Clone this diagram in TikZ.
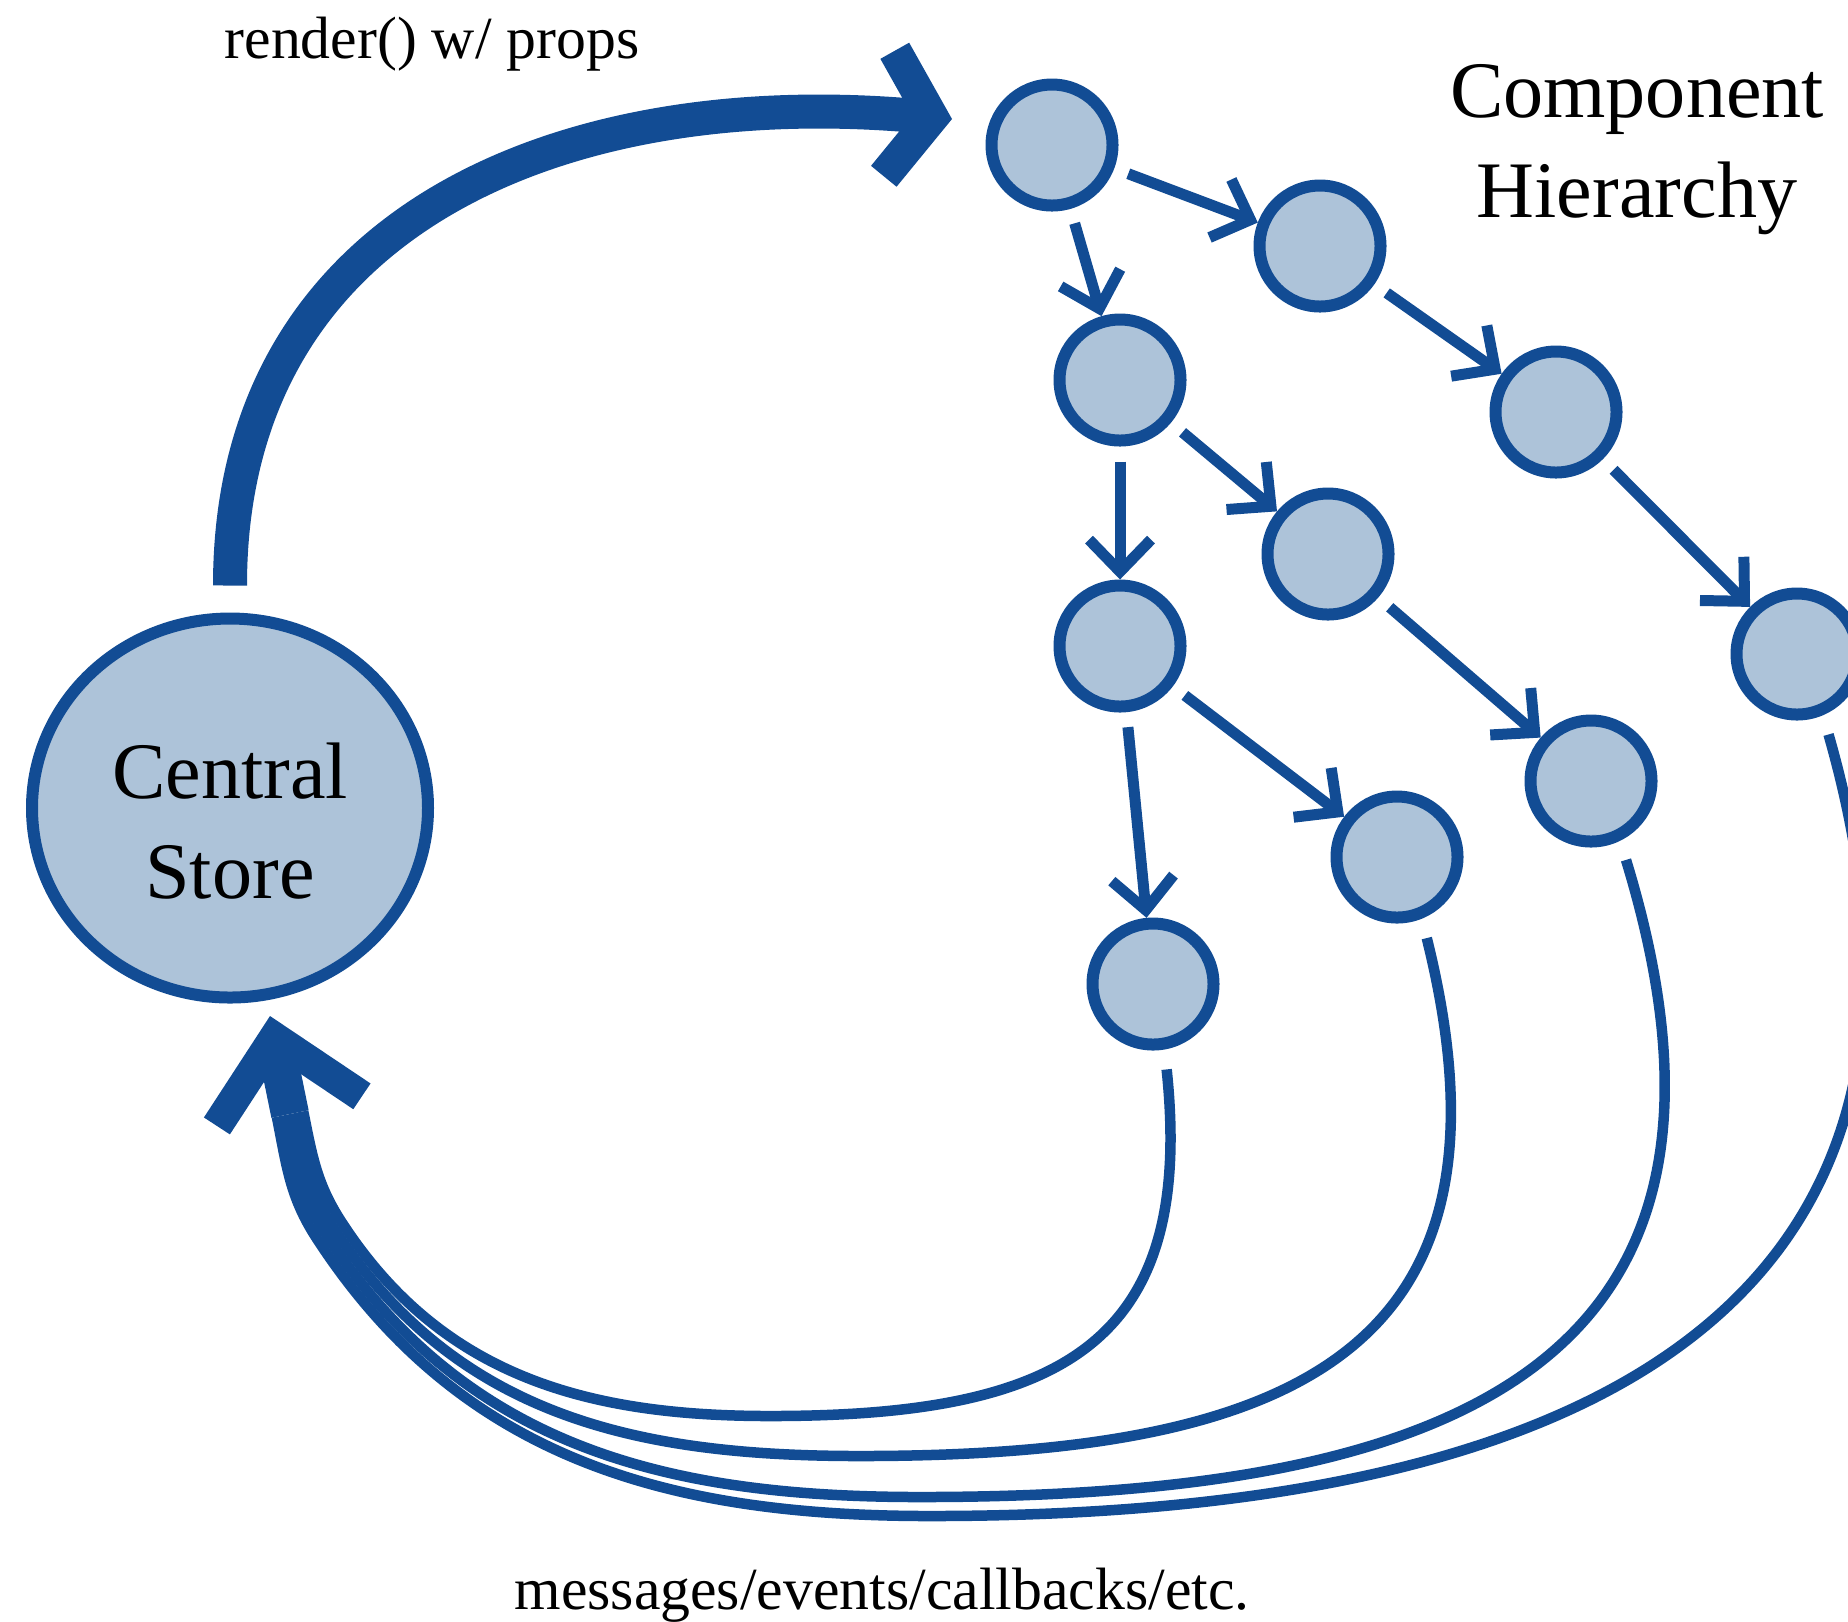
\documentclass[tikz,border=0pt]{standalone}
\usepackage{fontspec}
\setmainfont{Liberation Serif}
\usetikzlibrary{arrows.meta,shapes.geometric}
\definecolor{hierblue}{HTML}{124C94}
\definecolor{hierfill}{HTML}{ADC3D9}

\tikzset{
  store/.style={ellipse, draw=hierblue, fill=hierfill, line width=1.2mm,
    minimum width=3.96cm, minimum height=3.79cm, inner sep=0pt},
  bigtext/.style={align=center, font=\fontsize{22.8}{28.45}\selectfont},
  comp/.style={circle, draw=hierblue, fill=hierfill, line width=1.2mm,
    minimum size=1.21cm, inner sep=0pt},
  sublink/.style={hierblue, line width=1.1mm, shorten <=1.5mm,
    -{Straight Barb[sharp, length=3.2mm, width=6.2mm]}},
  callback/.style={hierblue, line width=1.05mm, shorten <=2mm},
  rendertip/.style={hierblue, line width=3.4mm,
    -{Straight Barb[sharp, line width=3.3mm, length=4.3mm, width=12.6mm]}},
  msgtip/.style={hierblue, line width=3.8mm,
    -{Straight Barb[sharp, line width=3.1mm, length=7.5mm, width=14.8mm]}},
  note/.style={font=\fontsize{17}{20}\selectfont},
}

\begin{document}
\begin{tikzpicture}
  \useasboundingbox (0,0) rectangle (18.48,-16.21);

  % the store
  \node[store] (store) at (2.30,-8.08) {};
  \node[bigtext] (storename) at ([yshift=-1.3mm]store.center) {Central\\Store};

  % component tree
  \node[comp] (n1) at (10.52,-1.45) {};
  \node[comp] (n2) at (13.20,-2.46) {};
  \node[comp] (n3) at (11.20,-3.80) {};
  \node[comp] (n4) at (15.56,-4.12) {};
  \node[comp] (n5) at (13.28,-5.54) {};
  \node[comp] (n6) at (11.20,-6.46) {};
  \node[comp] (n7) at (17.97,-6.54) {};
  \node[comp] (n8) at (15.91,-7.81) {};
  \node[comp] (n9) at (13.97,-8.57) {};
  \node[comp] (n10) at (11.53,-9.84) {};

  \draw[sublink] (n1) -- (n2);
  \draw[sublink] (n1) -- (n3);
  \draw[sublink] (n2) -- (n4);
  \draw[sublink] (n3) -- (n5);
  \draw[sublink] (n3) -- (n6);
  \draw[sublink] (n4) -- (n7);
  \draw[sublink] (n5) -- (n8);
  \draw[sublink] (n6) -- (n9);
  \draw[sublink] (n6) -- (n10);

  % texts
  \node[note, anchor=base] (render) at (4.32,-0.58) {render() w/ props};
  \node[note, anchor=base] (msgs) at (8.82,-16.09) {messages/events/callbacks/etc.};
  \node[bigtext] (title) at (16.37,-1.50) {Component\\Hierarchy};

  % render() arrow
  \coordinate (feed) at (9.52,-1.19);
  \draw[rendertip, shorten <=2.7mm] (store.north) to[out=90, in=175, looseness=1.15] (feed);

  % callbacks back to the store
  \coordinate (sink) at (2.70,-10.16);
  \coordinate (merge) at (2.90,-11.14);
  \coordinate (m7) at ([shift={(-0.132,-0.027)}]merge);
  \coordinate (m8) at ([shift={(-0.044,-0.009)}]merge);
  \coordinate (m9) at ([shift={(0.044,0.009)}]merge);
  \coordinate (m10) at ([shift={(0.132,0.027)}]merge);
  \coordinate (w7) at (3.165,-12.38);
  \coordinate (w8) at (3.249,-12.327);
  \coordinate (w9) at (3.331,-12.273);
  \coordinate (w10) at (3.415,-12.22);
  \coordinate (b7) at (9.30,-15.16);
  \coordinate (b8) at (9.20,-14.97);
  \coordinate (b9) at (8.60,-14.56);
  \coordinate (b10) at (7.70,-14.16);

  \draw[callback] (n10.-80) to[out=-84, in=0, looseness=1.4] (b10)
    to[out=180, in=-57] (w10) to[out=123, in=-78.5] (m10);
  \draw[callback] (n9.-68) to[out=-76, in=0, looseness=1.45] (b9)
    to[out=180, in=-57] (w9) to[out=123, in=-78.5] (m9);
  \draw[callback] (n8.-64) to[out=-73, in=0, looseness=1.45] (b8)
    to[out=180, in=-57] (w8) to[out=123, in=-78.5] (m8);
  \draw[callback] (n7.-67) to[out=-74, in=0, looseness=1.35] (b7)
    to[out=180, in=-57] (w7) to[out=123, in=-78.5] (m7);
  \draw[msgtip] (merge) -- (sink);
\end{tikzpicture}
\end{document}
